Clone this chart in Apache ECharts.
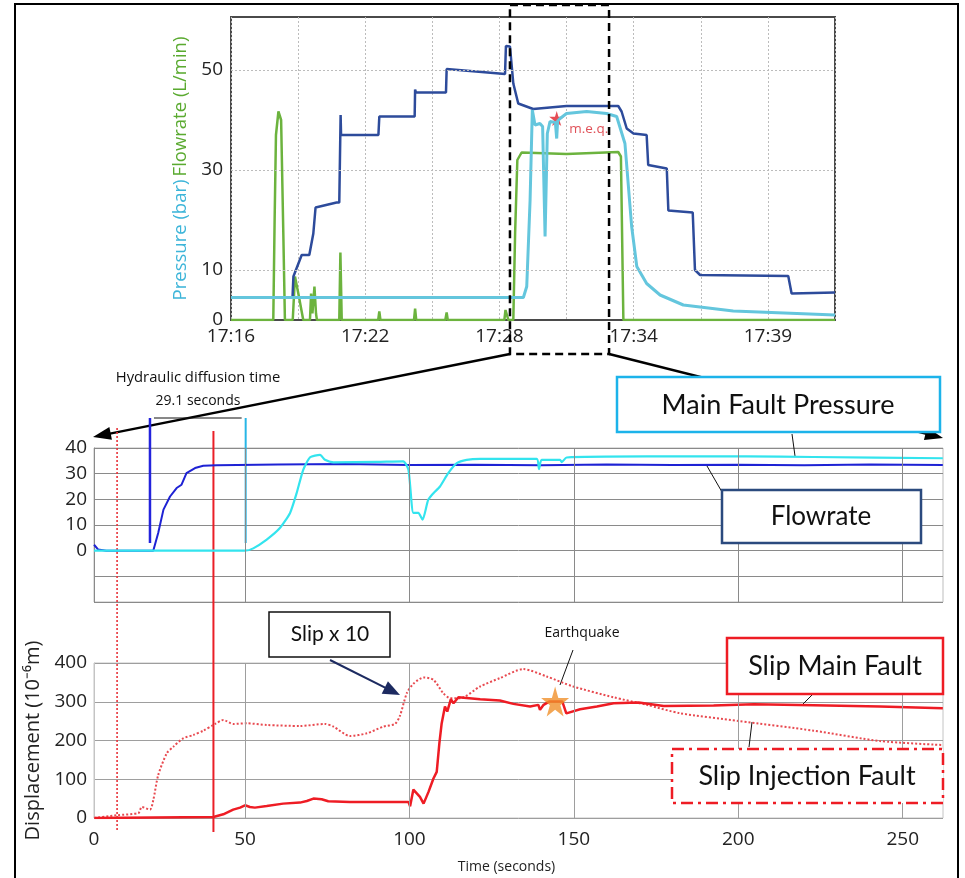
<!DOCTYPE html>
<html><head><meta charset="utf-8">
<script src="https://cdn.jsdelivr.net/npm/echarts@6/dist/echarts.min.js"></script>
<style>html,body{margin:0;padding:0;background:#fff}#c{width:965px;height:878px}</style>
</head><body><div id="c"></div>
<script>
// ---------- TOP PANEL (minutes after 17:16) ----------
const topTickMinutes = [0, 6, 12, 18, 24];
const topTickLabels = ['17:16', '17:22', '17:28', '17:34', '17:39'];
const topYLabels = [0, 10, 30, 50];
const topGridY = [10, 30, 50];

const navyT = [0, 2.75, 2.79, 3.16, 3.50, 3.68, 3.78, 4.72, 4.84, 4.88, 4.90, 4.92, 6.59, 6.63, 8.21, 8.23, 8.27, 9.61, 9.64, 12.25, 12.29, 12.47, 12.62, 12.84, 13.51, 15.0, 17.31, 17.46, 17.69, 17.99, 18.58, 18.65, 19.48, 19.55, 20.64, 20.74, 20.97, 24.91, 25.06, 27.0];
const navyV = [4.5, 4.5, 8.7, 13, 13, 17.3, 22.5, 23.5, 23.5, 23.5, 41, 37, 37, 40.7, 40.7, 46.1, 45.5, 45.5, 50.2, 49.2, 54.8, 54.7, 47.3, 43.3, 42.2, 42.8, 42.8, 41.7, 38.3, 37.3, 37, 31, 30.3, 21.9, 21.5, 10, 9, 8.8, 5.3, 5.5];

const cyanT = [0, 13.07, 13.22, 13.37, 13.47, 13.59, 13.81, 13.93, 14.04, 14.14, 14.26, 14.50, 14.56, 14.60, 14.71, 15.0, 15.9, 16.79, 17.24, 17.61, 17.91, 18.14, 18.58, 19.18, 20.22, 22.45, 27.0];
const cyanV = [4.5, 4.5, 6.7, 24, 42, 39, 39.3, 38.7, 16.7, 37.3, 39.7, 39.5, 36.3, 39.8, 40.3, 41.3, 41.7, 41.3, 40.7, 35.3, 18.7, 10.7, 7.3, 5, 3, 1.8, 1.0];

const greenT = [0, 1.89, 1.95, 2.01, 2.12, 2.24, 2.34, 2.41, 2.76, 2.86, 3.01, 3.23, 3.53, 3.58, 3.64, 3.73, 3.80, 3.84, 4.84, 4.89, 4.95, 6.58, 6.63, 6.68, 8.18, 8.23, 8.28, 9.58, 9.64, 9.69, 12.22, 12.27, 12.35, 12.40, 12.62, 12.70, 12.80, 12.99, 15.0, 17.31, 17.43, 17.54, 27.0];
const greenV = [0, 0, 20, 37, 41.7, 40, 17, 0, 0, 8.7, 5.3, 0, 0, 5.3, 1.3, 6.7, 1.3, 0, 0, 13.5, 0, 0, 1.7, 0, 0, 2.3, 0, 0, 1.5, 0, 0, 2, 2, 0, 0, 17.3, 32, 33.5, 33.2, 33.6, 32.7, 0, 0];

const meqPoint = [14.56, 40.3];
const zoomWindow = [12.47, 16.9];

// ---------- MIDDLE & BOTTOM PANELS (seconds) ----------
const secMin = 4.08, secMax = 262.25;
const secTickValues = [4.08, 50, 100, 150, 200, 250];
const secTickLabels = ['0', '50', '100', '150', '200', '250'];
const secGridX = [50, 100, 150, 200, 250];

const flowT = [4.1, 5.3, 7.8, 22.1, 23.6, 25.2, 27.2, 29.2, 30.7, 32.2, 34.8, 37.3, 41.4, 60, 80, 100, 120, 140, 160, 180, 200, 220, 240, 262.2];
const flowV = [2.3, 0.5, 0, 0, 6.9, 16, 21.1, 24.4, 25.7, 30.2, 32.2, 33.1, 33.3, 33.6, 33.8, 33.4, 33.5, 33.3, 33.6, 33.4, 33.5, 33.3, 33.6, 33.4];

const mfpT = [4.1, 50, 52.5, 56.6, 60.6, 63.7, 65.7, 67.7, 69.8, 72.8, 74.3, 76.9, 90, 98.1, 99.7, 101.2, 102.7, 104.0, 105.7, 107.3, 109.3, 111.8, 114.4, 117.4, 121.5, 138.7, 139.4, 140.2, 145.8, 146.3, 147.8, 172.2, 202.6, 222.8, 262.2];
const mfpV = [0, 0, 0.9, 4.3, 8.8, 14.7, 22.4, 31.5, 36.4, 37.3, 35.4, 34.4, 34.6, 34.8, 31.5, 14.7, 14.7, 12.1, 19.8, 22.4, 25, 30.2, 34.1, 35.4, 35.8, 35.8, 31.8, 35.4, 35.4, 34.5, 36.3, 36.7, 36.7, 36.5, 36];

const slipMainT = [4.2, 40.4, 43.4, 46.4, 48.5, 50, 50.4, 51.5, 53, 56.6, 61.6, 66.7, 68.8, 70.8, 73.3, 75.3, 81.9, 99.7, 100.2, 101.2, 102.3, 103.2, 104.3, 105.8, 107.3, 108.3, 109.1, 109.8, 110.8, 111.5, 112.6, 113.4, 114.9, 121.5, 127.5, 131.6, 136.7, 139.2, 139.7, 140.8, 142.5, 146.5, 147.7, 151.9, 157, 162.1, 169.7, 177.3, 192.5, 204.7, 222.9, 243.1, 262.2];
const slipMainV = [0, 2.6, 9.5, 21.6, 26.8, 32.8, 35.4, 28.5, 26.8, 31.1, 37.1, 39.7, 44, 50.1, 48.4, 43.2, 41.5, 41.5, 30.2, 73.4, 63, 54.4, 37.1, 67.4, 102, 119, 192.6, 244, 287.6, 274.6, 306.6, 296, 311.7, 306.6, 303, 294.5, 287.6, 291.9, 279, 292, 300.5, 300.5, 270, 280.7, 287.6, 296.2, 298, 289.3, 290.2, 293.6, 291, 287.6, 283.2];

const slipInjT = [4.2, 11, 17.6, 18.6, 21.1, 22.1, 23.6, 26.2, 28.2, 31.2, 34.3, 37.3, 40.9, 43.4, 46.4, 50.5, 56.6, 66.7, 74.3, 76.9, 81.9, 87, 92.1, 95.6, 97.1, 99.2, 101.2, 104.3, 107.3, 110.3, 112.4, 115.4, 121.5, 127.5, 134.6, 141.7, 149.8, 162, 172.2, 182.3, 200, 222.9, 243.1, 262.2];
const slipInjV = [0, 7, 13, 28.5, 21.6, 45.8, 110.5, 166.7, 184, 205.5, 214.2, 225.4, 242.7, 253, 242.7, 244.4, 240, 237.5, 242.7, 235.8, 211.6, 218.5, 235.8, 242.7, 263.4, 322, 346.3, 362.7, 356.6, 322, 309.2, 309.2, 339.4, 361, 384.3, 365.3, 339.4, 311.7, 291.9, 270.3, 250.4, 225.4, 198.6, 188.3];

const quakePoint = [144.3, 300.5];
const markers = { redDotted: 11.1, redSolid: 40.4, flowStart: 21.1, pressureStart: 50.2 };

// ---------- build ----------
const zip = (a, b) => a.map((v, i) => [v, b[i]]);
const FONT = '"Open Sans", sans-serif';
const BOXFONT = 'Lato, "Open Sans", sans-serif';
const STAR = 'path://M50,0 L61,35 L98,35 L68,57 L79,91 L50,70 L21,91 L32,57 L2,35 L39,35 Z';

const chart = echarts.init(document.getElementById('c'));
const vGrid = (color) => ({
  silent: true, symbol: 'none', animation: false, label: { show: false },
  lineStyle: { color, width: 1, type: 'solid' },
  data: secGridX.map(x => ({ xAxis: x }))
});

const option = {
  animation: false,
  backgroundColor: '#fff',
  textStyle: { fontFamily: FONT },
  grid: [
    { left: 231, top: 17, width: 604, height: 303, show: true, borderColor: '#4a4a4a', borderWidth: 2 },
    { left: 94, top: 448, width: 849, height: 154, show: true, borderColor: '#bdbdbd', borderWidth: 1 },
    { left: 94, top: 663, width: 849, height: 155, show: true, borderColor: '#c4c4c4', borderWidth: 1 }
  ],
  xAxis: [
    { type: 'value', gridIndex: 0, min: 0, max: 27, interval: 3,
      axisLine: { show: false }, axisTick: { show: false },
      axisLabel: { margin: 7, fontSize: 19, color: '#222', fontFamily: FONT,
        formatter: v => { const i = topTickMinutes.indexOf(v); return i >= 0 ? topTickLabels[i] : ''; } },
      splitLine: { show: true, lineStyle: { color: '#bcbcbc', type: [2, 2], width: 1 } } },
    { type: 'value', gridIndex: 1, min: secMin, max: secMax,
      axisLine: { show: false }, axisTick: { show: false }, axisLabel: { show: false }, splitLine: { show: false } },
    { type: 'value', gridIndex: 2, min: secMin, max: secMax,
      axisLine: { show: false }, axisTick: { show: false }, splitLine: { show: false },
      axisLabel: { customValues: secTickValues, margin: 12, fontSize: 19, color: '#222', fontFamily: FONT,
        formatter: v => { const i = secTickValues.indexOf(v); return i >= 0 ? secTickLabels[i] : ''; } },
      name: 'Time (seconds)', nameLocation: 'middle', nameGap: 42,
      nameTextStyle: { fontSize: 14, color: '#222', fontFamily: FONT, padding: [0, 24, 0, 0] } }
  ],
  yAxis: [
    { type: 'value', gridIndex: 0, min: 0, max: 60.6, interval: 10,
      axisLine: { show: false }, axisTick: { show: false }, splitLine: { show: false },
      axisLabel: { margin: 8, fontSize: 19, color: '#222', fontFamily: FONT,
        formatter: v => topYLabels.includes(v) ? String(v) : '' },
      name: '{p|Pressure (bar)} {f|Flowrate (L/min)}', nameLocation: 'middle', nameRotate: 90, nameGap: 36,
      nameTextStyle: { fontFamily: FONT, rich: {
        p: { color: '#3db5d9', fontSize: 18.5, fontFamily: FONT },
        f: { color: '#5aaa30', fontSize: 18.5, fontFamily: FONT } } } },
    { type: 'value', gridIndex: 1, min: -20, max: 40, interval: 10,
      axisLine: { show: true, lineStyle: { color: '#8a8a8a', width: 1 } }, axisTick: { show: false },
      axisLabel: { margin: 7, fontSize: 19, color: '#222', fontFamily: FONT,
        formatter: v => v >= 0 ? String(v) : '' },
      splitLine: { show: true, lineStyle: { color: '#8a8a8a', width: 1 } } },
    { type: 'value', gridIndex: 2, min: 0, max: 400, interval: 100,
      axisLine: { show: true, lineStyle: { color: '#c4c4c4', width: 1 } }, axisTick: { show: false },
      axisLabel: { margin: 7, fontSize: 19, color: '#222', fontFamily: FONT },
      splitLine: { show: true, lineStyle: { color: '#9e9e9e', width: 1 } },
      name: 'Displacement (10⁻⁶m)', nameLocation: 'middle', nameRotate: 90, nameGap: 48,
      nameTextStyle: { fontSize: 20, color: '#222', fontFamily: FONT } }
  ],
  series: [
    { type: 'line', xAxisIndex: 0, yAxisIndex: 0, data: zip(greenT, greenV), symbol: 'none',
      lineStyle: { color: '#6cb33e', width: 2.5 },
      markLine: { silent: true, symbol: 'none', label: { show: false },
        lineStyle: { color: '#bcbcbc', type: [2, 2], width: 1 },
        data: topGridY.map(y => ({ yAxis: y })) } },
    { type: 'line', xAxisIndex: 0, yAxisIndex: 0, data: zip(navyT, navyV), symbol: 'none',
      lineStyle: { color: '#2d4b9b', width: 2.5 } },
    { type: 'line', xAxisIndex: 0, yAxisIndex: 0, data: zip(cyanT, cyanV), symbol: 'none',
      lineStyle: { color: '#64c6dd', width: 3 } },
    { type: 'scatter', xAxisIndex: 0, yAxisIndex: 0, data: [meqPoint], symbol: STAR, symbolSize: 15,
      itemStyle: { color: '#e0202a' },
      label: { show: true, formatter: 'm.e.q.', position: 'right', offset: [0, 11], color: '#d8262e', fontSize: 13.5, fontFamily: FONT } },

    { type: 'line', xAxisIndex: 1, yAxisIndex: 1, data: zip(flowT, flowV), symbol: 'none',
      lineStyle: { color: '#1e22d4', width: 2 }, markLine: vGrid('#8a8a8a') },
    { type: 'line', xAxisIndex: 1, yAxisIndex: 1, data: zip(mfpT, mfpV), symbol: 'none', smooth: 0.2,
      lineStyle: { color: '#33e4ee', width: 2.2 } },

    { type: 'line', xAxisIndex: 2, yAxisIndex: 2, data: zip(slipInjT, slipInjV), symbol: 'none', smooth: 0.25,
      lineStyle: { color: '#e84a50', width: 2, type: [2, 2] }, markLine: vGrid('#9e9e9e') },
    { type: 'line', xAxisIndex: 2, yAxisIndex: 2, data: zip(slipMainT, slipMainV), symbol: 'none',
      lineStyle: { color: '#ee1c24', width: 2.5 } },
    { type: 'scatter', xAxisIndex: 2, yAxisIndex: 2, data: [quakePoint], symbol: STAR, symbolSize: [28, 30],
      itemStyle: { color: '#f0902a' }, z: 5 }
  ]
};
chart.setOption(option);

// ---------- annotations (positions from the axes) ----------
const P = (g, x, y) => chart.convertToPixel({ gridIndex: g }, [x, y]);
function arrow(x1, y1, x2, y2, color, w, hl, hw) {
  const a = Math.atan2(y2 - y1, x2 - x1);
  const bx = x2 - hl * Math.cos(a), by = y2 - hl * Math.sin(a);
  const nx = -Math.sin(a) * hw / 2, ny = Math.cos(a) * hw / 2;
  return [
    { type: 'line', shape: { x1, y1, x2: bx + 2 * Math.cos(a), y2: by + 2 * Math.sin(a) }, style: { stroke: color, lineWidth: w } },
    { type: 'polygon', shape: { points: [[x2, y2], [bx + nx, by + ny], [bx - nx, by - ny]] }, style: { fill: color } }
  ];
}
const seg = (x1, y1, x2, y2, stroke, lineWidth, lineDash) =>
  ({ type: 'line', shape: { x1, y1, x2, y2 }, style: { stroke, lineWidth, lineDash } });
const txt = (x, y, text, size, fam, color, align) =>
  ({ type: 'text', x, y, style: { text, fontSize: size, fontFamily: fam, fill: color || '#111', align: align || 'center', verticalAlign: 'middle' }, z: 20 });
const box = (x, y, w, h, stroke, lw, dash) =>
  ({ type: 'rect', shape: { x, y, width: w, height: h }, style: { fill: '#fff', stroke, lineWidth: lw, lineDash: dash }, z: 15 });

const zx1 = P(0, zoomWindow[0], 0)[0], zx2 = P(0, zoomWindow[1], 0)[0];
const xRD = P(2, markers.redDotted, 0)[0], xRS = P(2, markers.redSolid, 0)[0];
const xFS = P(1, markers.flowStart, 0)[0], xPS = P(1, markers.pressureStart, 0)[0];

const g = [];
g.push({ type: 'rect', shape: { x: 15, y: 4, width: 943, height: 880 }, style: { fill: 'none', stroke: '#000', lineWidth: 2 }, z: 30 });
// zoom window
g.push({ type: 'rect', shape: { x: zx1, y: 5, width: zx2 - zx1, height: 349 }, style: { fill: 'none', stroke: '#000', lineWidth: 2.5, lineDash: [8, 5] }, z: 25 });
g.push(...arrow(zx1, 354, 93, 437, '#000', 2.5, 18, 13));
g.push(...arrow(zx2, 354, 943, 438, '#000', 2.5, 18, 13));
// vertical markers
g.push(seg(xRD, 428, xRD, 832, '#e8333a', 1.6, [2, 2]));
g.push(seg(xRS, 431, xRS, 832, '#ea1f27', 2));
g.push(seg(xFS, 418, xFS, 543, '#2323dc', 2.5));
g.push(seg(xPS, 418, xPS, 543, '#27b6e6', 2));
g.push(seg(xFS + 4, 418, xPS - 4, 418, '#111', 1));
g.push(txt(198, 378, 'Hydraulic diffusion time', 14.8, FONT));
g.push(txt(198, 401, '29.1 seconds', 14, FONT));
// leader lines
g.push(seg(792, 434, 795, 456, '#111', 1));
g.push(seg(707, 466, 722, 492, '#111', 1));
g.push(seg(573, 650, 560, 685, '#111', 1));
g.push(seg(812, 695, 802, 705, '#111', 1));
g.push(seg(752, 722, 749, 747, '#111', 1));
// boxes
g.push(box(617, 377, 323, 55, '#1cb3ea', 2.5));
g.push(txt(778, 405, 'Main Fault Pressure', 27, BOXFONT));
g.push(box(722, 490, 199, 53, '#2b4a7e', 2.5));
g.push(txt(821, 517, 'Flowrate', 26, BOXFONT));
g.push(box(727, 638, 216, 56, '#ee1c24', 2.5));
g.push(txt(835, 666, 'Slip Main Fault', 27, BOXFONT));
g.push(box(672, 749, 271, 54, '#ee1c24', 2.5, [12, 5, 3, 5]));
g.push(txt(807, 776, 'Slip Injection Fault', 27, BOXFONT));
g.push(box(269, 612, 121, 45, '#111', 1.5));
g.push(txt(330, 634, 'Slip x 10', 21, BOXFONT));
g.push(...arrow(330, 660, 400, 695, '#1c2a60', 2, 17, 14));
g.push(txt(582, 633, 'Earthquake', 14, FONT));

chart.setOption({ graphic: { elements: g } });
</script></body></html>
